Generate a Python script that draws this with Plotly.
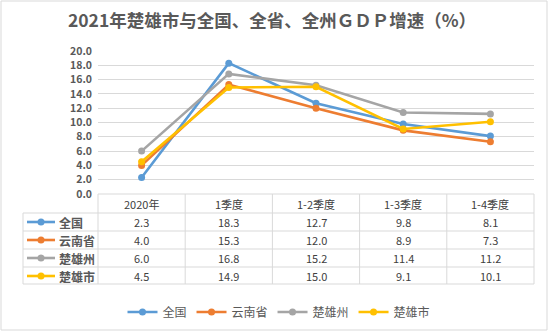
import plotly.graph_objects as go

categories = ["2020年", "1季度", "1-2季度", "1-3季度", "1-4季度"]
series_names = ["全国", "云南省", "楚雄州", "楚雄市"]
quanguo = [2.3, 18.3, 12.7, 9.8, 8.1]
yunnan = [4.0, 15.3, 12.0, 8.9, 7.3]
chuxiongzhou = [6.0, 16.8, 15.2, 11.4, 11.2]
chuxiongshi = [4.5, 14.9, 15.0, 9.1, 10.1]
series_values = [quanguo, yunnan, chuxiongzhou, chuxiongshi]
colors = ["#5B9BD5", "#ED7D31", "#A5A5A5", "#FFC000"]
y_ticks = [0, 2, 4, 6, 8, 10, 12, 14, 16, 18, 20]
title = "2021年楚雄市与全国、全省、全州ＧＤＰ增速（%）"

W, H = 550, 332
L, R, T, B = 98, 534, 51, 194
pw, ph = R - L, B - T
FONT = "Noto Sans CJK SC"
TXT = "#404040"
GRID = "#d9d9d9"


def px2x(px):
    return (px - L) / pw


def px2y(py):
    return (B - py) / ph


fig = go.Figure()
for name, vals, c in zip(series_names, series_values, colors):
    fig.add_trace(go.Scatter(
        x=categories, y=vals, name=name, mode="lines+markers",
        line=dict(color=c, width=2.6), marker=dict(color=c, size=7),
    ))

shapes = []
annotations = []

header_c = (194 + 213) / 2
row_tops = [213, 231, 249, 267]
row_bottom = 284
n = len(categories)
for i, cat in enumerate(categories):
    annotations.append(dict(x=cat, xref="x", y=px2y(header_c), yref="paper",
                            yanchor="middle", text=cat, showarrow=False,
                            font=dict(family=FONT, size=11, color=TXT)))
for i in range(n + 1):
    shapes.append(dict(type="line", xref="paper", yref="paper",
                       x0=i / n, x1=i / n, y0=px2y(194), y1=px2y(row_bottom),
                       line=dict(color=GRID, width=1)))
shapes.append(dict(type="line", xref="paper", yref="paper",
                   x0=px2x(23), x1=px2x(23), y0=px2y(213), y1=px2y(row_bottom),
                   line=dict(color=GRID, width=1)))
for yy in row_tops + [row_bottom]:
    shapes.append(dict(type="line", xref="paper", yref="paper",
                       x0=px2x(23), x1=1, y0=px2y(yy), y1=px2y(yy),
                       line=dict(color=GRID, width=1)))
shapes.append(dict(type="line", xref="paper", yref="paper",
                   x0=0, x1=1, y0=0, y1=0, line=dict(color=GRID, width=1)))

for r, (name, vals, c) in enumerate(zip(series_names, series_values, colors)):
    cy = px2y(row_tops[r] + 9)
    for cat, v in zip(categories, vals):
        annotations.append(dict(x=cat, xref="x", y=cy, yref="paper",
                                yanchor="middle", text=f"{v:.1f}", showarrow=False,
                                font=dict(family=FONT, size=11, color=TXT)))
    shapes.append(dict(type="line", xref="paper", yref="paper",
                       x0=px2x(27), x1=px2x(55), y0=cy, y1=cy,
                       line=dict(color=c, width=2.6)))
    shapes.append(dict(type="circle", xref="paper", yref="paper",
                       x0=px2x(37.5), x1=px2x(44.5), y0=cy - 3.5 / ph, y1=cy + 3.5 / ph,
                       fillcolor=c, line=dict(color=c, width=0)))
    annotations.append(dict(x=px2x(57), xref="paper", y=cy, yref="paper",
                            xanchor="left", yanchor="middle",
                            text=f"<b>{name}</b>", showarrow=False,
                            font=dict(family=FONT, size=12, color="#595959")))

shapes.append(dict(type="rect", xref="paper", yref="paper",
                   x0=px2x(1), x1=px2x(547), y0=px2y(330), y1=px2y(1),
                   line=dict(color=GRID, width=1)))

fig.update_layout(
    width=W, height=H,
    margin=dict(l=L, r=W - R, t=T, b=H - B),
    paper_bgcolor="white", plot_bgcolor="white",
    title=dict(text=f"<b>{title}</b>", x=272 / W, xanchor="center",
               y=1 - 21 / H, yanchor="middle",
               font=dict(family=FONT, size=17.5, color="#595959")),
    xaxis=dict(range=[-0.5, 4.5], showticklabels=False, showgrid=False,
               zeroline=False, showline=False, ticks=""),
    yaxis=dict(range=[0, 20], tickvals=y_ticks,
               ticktext=[f"<b>{v:.1f}</b>" for v in y_ticks],
               showgrid=True, gridcolor=GRID, gridwidth=1, zeroline=False,
               showline=False, ticks="", ticklabelstandoff=5,
               tickfont=dict(family=FONT, size=10.5, color="#595959")),
    legend=dict(orientation="h", xref="container", yref="container",
                x=279 / W, xanchor="center", y=1 - 312 / H, yanchor="middle",
                font=dict(family=FONT, size=12, color="#595959"),
                itemwidth=30, tracegroupgap=0),
    shapes=shapes, annotations=annotations,
    showlegend=True,
)

fig.write_html("out.html")
